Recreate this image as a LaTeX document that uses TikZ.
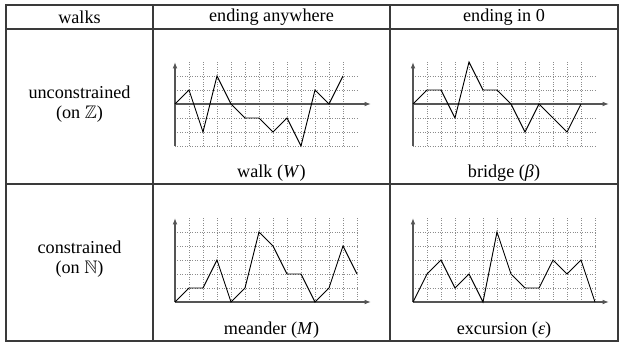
\documentclass[tikz,border=0pt]{standalone}
\usepackage{fontspec}
\usepackage{amssymb}
\setmainfont{Liberation Serif}
\usetikzlibrary{arrows.meta}
\definecolor{tableRule}{HTML}{3A3A3A}
\definecolor{axisGray}{HTML}{555555}
\definecolor{gridGray}{HTML}{8C8C8C}
\tikzset{
  table rule/.style={draw=tableRule, line width=0.6pt},
  grid line/.style={draw=gridGray, densely dotted, line width=0.35pt},
  axis line/.style={draw=axisGray, line width=0.7pt},
  axis arrow/.style={axis line, -{Latex[length=3.5pt,width=2.6pt]}},
  walk path/.style={draw=black, line width=0.5pt, line join=miter},
  cell text/.style={font=\normalsize, inner sep=0pt}
}
\newcommand{\walkpanel}[5]{%
  \begin{scope}[shift={#1}, x=7.7pt, y=7.7pt]
    \foreach \lvl in {#2,...,#3}
      \draw[grid line] (0,\lvl) -- (13,\lvl);
    \foreach \stp in {1,...,#4}
      \draw[grid line] (\stp,#2) -- (\stp,#3+1);
    \draw[axis arrow] (0,#2) -- (0,#3+1);
    \draw[axis arrow] (0,0) -- (14,0);
    \draw[walk path] (0,0) \foreach \yv [count=\i] in {#5} { -- (\i,\yv) };
  \end{scope}%
}

\begin{document}
\begin{tikzpicture}[x=0.55pt, y=-0.55pt]
\useasboundingbox (0,0) rectangle (624,342);

% table frame and rules
\draw[table rule, line width=0.9pt] (6,5) rectangle (618,341);
\draw[table rule] (6,29) -- (618,29);
\draw[table rule] (6,184) -- (618,184);
\draw[table rule] (153,5) -- (153,341);
\draw[table rule] (390,5) -- (390,341);

% header row
\node[cell text] (hwalks) at (79.5,17) {walks};
\node[cell text] (hany) at (271.5,17) {ending anywhere};
\node[cell text] (hzero) at (504,17) {ending in 0};

% row labels
\node[cell text, align=center] (rfree) at (79.5,104)
  {unconstrained\\[-1pt](on $\mathbb{Z}$)};
\node[cell text, align=center] (rpos) at (79.5,259)
  {constrained\\[-1pt](on $\mathbb{N}$)};

% Panels: unconstrained walks (levels -3..2), 12 steps
\walkpanel{(175,104)}{-3}{2}{12}{1,-2,2,0,-1,-1,-2,-1,-3,1,0,2}
\walkpanel{(413,104)}{-3}{2}{12}{1,1,-1,3,1,1,0,-2,0,-1,-2,0}

% Panels: constrained walks (levels 0..5), 13 steps
\walkpanel{(175,302)}{0}{5}{13}{1,1,3,0,1,5,4,2,2,0,1,4,2}
\walkpanel{(413,302)}{0}{5}{13}{2,3,1,2,0,5,2,1,1,3,2,3,0}

% captions
\node[cell text] (cwalk) at (271.5,173) {walk (\textit{W})};
\node[cell text] (cbridge) at (504,173) {bridge (\textit{β})};
\node[cell text] (cmeander) at (271.5,330) {meander (\textit{M})};
\node[cell text] (cexcursion) at (504,330) {excursion (\textit{ε})};

\end{tikzpicture}
\end{document}
